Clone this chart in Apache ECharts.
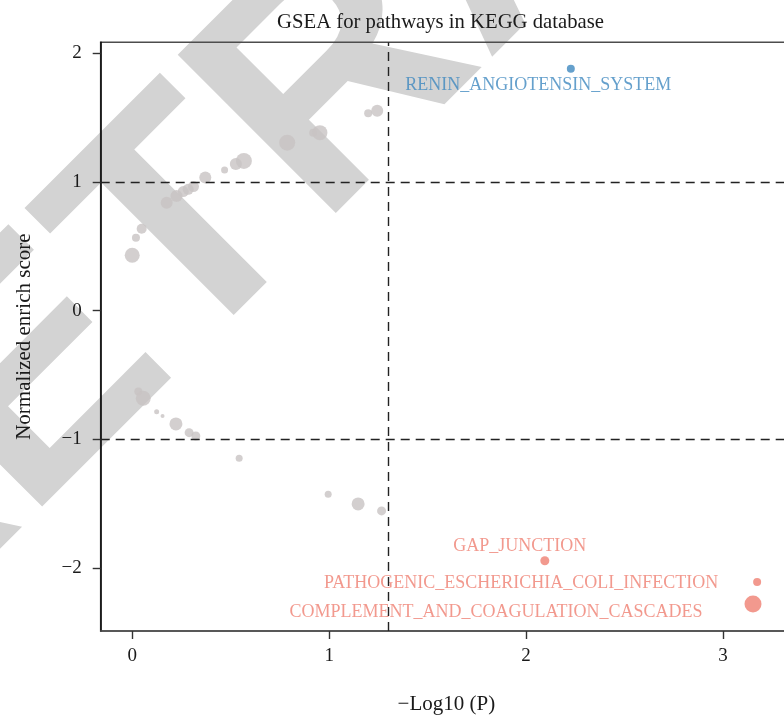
<!DOCTYPE html>
<html>
<head>
<meta charset="utf-8">
<script src="https://cdn.jsdelivr.net/npm/echarts@6/dist/echarts.min.js"></script>
<style>
html,body{margin:0;padding:0;background:#fff;}
#chart{width:784px;height:716px;}
</style>
</head>
<body>
<div id="chart"></div>
<script>
// ---- data ----
var titleText = 'GSEA for pathways in KEGG database';
var xName = '\u2212Log10 (P)';
var yName = 'Normalized enrich score';
var xTicks = [0, 1, 2, 3];
var yTicks = [-2, -1, 0, 1, 2];
var nesCutoffs = [1, -1];
var pCutoff = 1.301; // -log10(0.05)

// non-significant pathways
var grayX = [1.198,1.244,0.919,0.953,0.787,0.567,0.526,0.469,0.371,0.311,0.284,0.259,0.225,0.175,0.048,0.019,0.000,
             0.031,0.056,0.124,0.154,0.222,0.289,0.323,0.543,0.995,1.147,1.266];
var grayY = [1.534,1.554,1.383,1.383,1.305,1.163,1.140,1.093,1.034,0.964,0.943,0.925,0.891,0.839,0.637,0.567,0.430,
             -0.629,-0.681,-0.785,-0.818,-0.880,-0.948,-0.974,-1.147,-1.427,-1.502,-1.556];
var graySetSize = [8,12,8,15,16,16,12,7,12,11,11,11,12,12,10,8,15,
                   8,15,5,4,13,9,9,7,7,13,9];

// significant pathways
var sigNames = ['RENIN_ANGIOTENSIN_SYSTEM','GAP_JUNCTION','PATHOGENIC_ESCHERICHIA_COLI_INFECTION','COMPLEMENT_AND_COAGULATION_CASCADES'];
var sigX = [2.227, 2.095, 3.173, 3.152];
var sigY = [1.880, -1.943, -2.108, -2.279];
var sigSetSize = [8, 9, 8, 17];

// ---- styles ----
var serif = '"Liberation Serif", "DejaVu Serif", serif';
var upColor = '#3f88bf', downColor = '#ef7f72';
var upText = '#3f88bf', downText = '#ef7f72';
var labelOffsets = {
  'RENIN_ANGIOTENSIN_SYSTEM': [-32.5, 16.3],
  'GAP_JUNCTION': [-25, -14.7],
  'PATHOGENIC_ESCHERICHIA_COLI_INFECTION': [-236, 1.3],
  'COMPLEMENT_AND_COAGULATION_CASCADES': [-257, 8.7]
};

function minus(v){ return String(v).replace('-', '\u2212'); }

var grayData = grayX.map(function(x,i){ return [x, grayY[i], graySetSize[i]]; });
var upData = [], downData = [];
sigX.forEach(function(x,i){
  var item = {
    name: sigNames[i],
    value: [x, sigY[i], sigSetSize[i]],
    label: { offset: labelOffsets[sigNames[i]] }
  };
  if (sigY[i] > 0) upData.push(item); else downData.push(item);
});

var chart = echarts.init(document.getElementById('chart'), null, {renderer:'canvas'});
var option = {
  animation: false,
  backgroundColor: '#fff',
  title: {
    text: titleText,
    left: 435.5, top: 7, textAlign: 'center',
    textStyle: { fontFamily: serif, fontSize: 20.7, fontWeight: 'normal', color: '#1a1a1a' }
  },
  graphic: [{
    type: 'text', x: 506, y: -84, rotation: Math.PI/4, z: -10, silent: true,
    style: { text: 'RETRACTED', font: 'bold 325px "Liberation Sans", Arial, sans-serif',
             fill: '#d3d3d3', align: 'center', verticalAlign: 'middle' }
  }],
  grid: {
    left: 100.7, top: 42.3, width: 691.3, bottom: 85,
    outerBoundsMode: 'none', containLabel: false,
    show: true, borderColor: '#4d4d4d', borderWidth: 1.6, backgroundColor: 'transparent'
  },
  xAxis: {
    type: 'value', min: -0.16, max: 3.35,
    name: xName, nameLocation: 'middle', nameGap: 63,
    nameTextStyle: { fontFamily: serif, fontSize: 21, color: '#1a1a1a' },
    axisLine: { show: true, onZero: false, lineStyle: { color: '#4d4d4d', width: 1.6 } },
    axisTick: { show: true, length: 8, customValues: xTicks, lineStyle: { color: '#333', width: 1.4 } },
    axisLabel: { customValues: xTicks, margin: 16, fontFamily: serif, fontSize: 19, color: '#1a1a1a', formatter: minus },
    splitLine: { show: false }
  },
  yAxis: {
    type: 'value', min: -2.489, max: 2.085,
    name: yName, nameLocation: 'middle', nameGap: 66,
    nameTextStyle: { fontFamily: serif, fontSize: 21, color: '#1a1a1a' },
    axisLine: { show: true, onZero: false, lineStyle: { color: '#111', width: 1.6 } },
    axisTick: { show: true, length: 8, customValues: yTicks, lineStyle: { color: '#333', width: 1.4 } },
    axisLabel: { customValues: yTicks, margin: 19, fontFamily: serif, fontSize: 19, color: '#1a1a1a', formatter: minus },
    splitLine: { show: false }
  },
  series: [
    {
      type: 'scatter', name: 'ns', z: 2,
      data: grayData,
      symbolSize: function(d){ return d[2]; },
      itemStyle: { color: '#c8c3c3' },
      markLine: {
        silent: true, symbol: 'none', animation: false,
        label: { show: false },
        lineStyle: { color: '#222', width: 1.4, type: [9, 6] },
        data: nesCutoffs.map(function(v){ return { yAxis: v }; }).concat([{ xAxis: pCutoff }])
      }
    },
    {
      type: 'scatter', name: 'up', z: 3,
      data: upData,
      symbolSize: function(d){ return d[2]; },
      itemStyle: { color: upColor },
      label: { show: true, position: 'inside', formatter: '{b}',
               fontFamily: serif, fontSize: 18, color: upText }
    },
    {
      type: 'scatter', name: 'down', z: 3,
      data: downData,
      symbolSize: function(d){ return d[2]; },
      itemStyle: { color: downColor },
      label: { show: true, position: 'inside', formatter: '{b}',
               fontFamily: serif, fontSize: 18, color: downText }
    }
  ]
};
chart.setOption(option);
</script>
</body>
</html>
